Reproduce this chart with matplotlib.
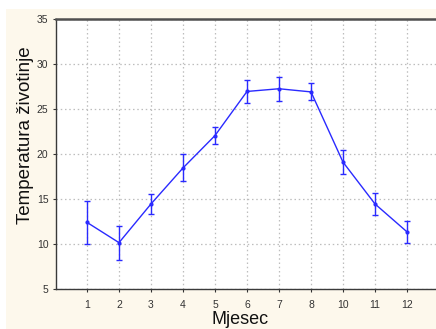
import matplotlib
matplotlib.use("Agg")
import matplotlib.pyplot as plt
from matplotlib.patches import Rectangle

months = ["1", "2", "3", "4", "5", "6", "7", "8", "10", "11", "12"]
means = [12.4, 10.15, 14.45, 18.45, 22.05, 26.95, 27.25, 26.9, 19.1, 14.45, 11.35]
errors = [2.4, 1.9, 1.1, 1.5, 0.95, 1.25, 1.35, 0.95, 1.3, 1.2, 1.2]
yticks = [5, 10, 15, 20, 25, 30, 35]

plt.rcParams['font.family'] = ['Liberation Sans', 'DejaVu Sans']

W, H = 436, 329
fig = plt.figure(figsize=(W / 100, H / 100), dpi=100)
fig.patch.set_facecolor('white')
bg = fig.add_axes([0, 0, 1, 1], zorder=-10)
bg.set_axis_off()
bg.set_xlim(0, 1)
bg.set_ylim(0, 1)
bg.add_patch(Rectangle((6 / W, 0), 1 - 6 / W, 1 - 9 / H,
                       facecolor='#fdf8ec', edgecolor='none'))

left, right, top, bottom = 56, 438, 19, 289
ax = fig.add_axes([left / W, 1 - bottom / H, (right - left) / W, (bottom - top) / H])
ax.set_facecolor('white')

x = list(range(len(months)))
ax.errorbar(x, means, yerr=errors, color='#2a2aff', lw=1.0, marker='o', ms=2.0,
            capsize=2, capthick=1.0, elinewidth=1.0, zorder=3)

ax.set_xlim(-31 / 32, (right - 87) / 32)
ax.set_ylim(5, 35)
ax.set_xticks(x)
ax.set_xticklabels(months)
ax.set_yticks(yticks)
ax.grid(True, color='#bdbdbd', linestyle=(0, (1.2, 2.2)), lw=0.9)
ax.tick_params(axis='both', labelsize=7.5, colors='#333333', length=2, direction='out')
ax.tick_params(axis='x', pad=6)
for s in ['left', 'bottom']:
    ax.spines[s].set_color('#3a3a3a')
    ax.spines[s].set_linewidth(1.0)
ax.spines['top'].set_color('#505050')
ax.spines['top'].set_linewidth(1.8)
ax.spines['right'].set_visible(False)

fig.text(240 / W, 1 - 320 / H, 'Mjesec', ha='center', va='center', fontsize=13, color='#111111')
fig.text(25 / W, 1 - 135 / H, 'Temperatura životinje', ha='center', va='center',
         rotation=90, fontsize=13.5, color='#111111')

fig.savefig('out.png', dpi=100, facecolor=fig.get_facecolor())
